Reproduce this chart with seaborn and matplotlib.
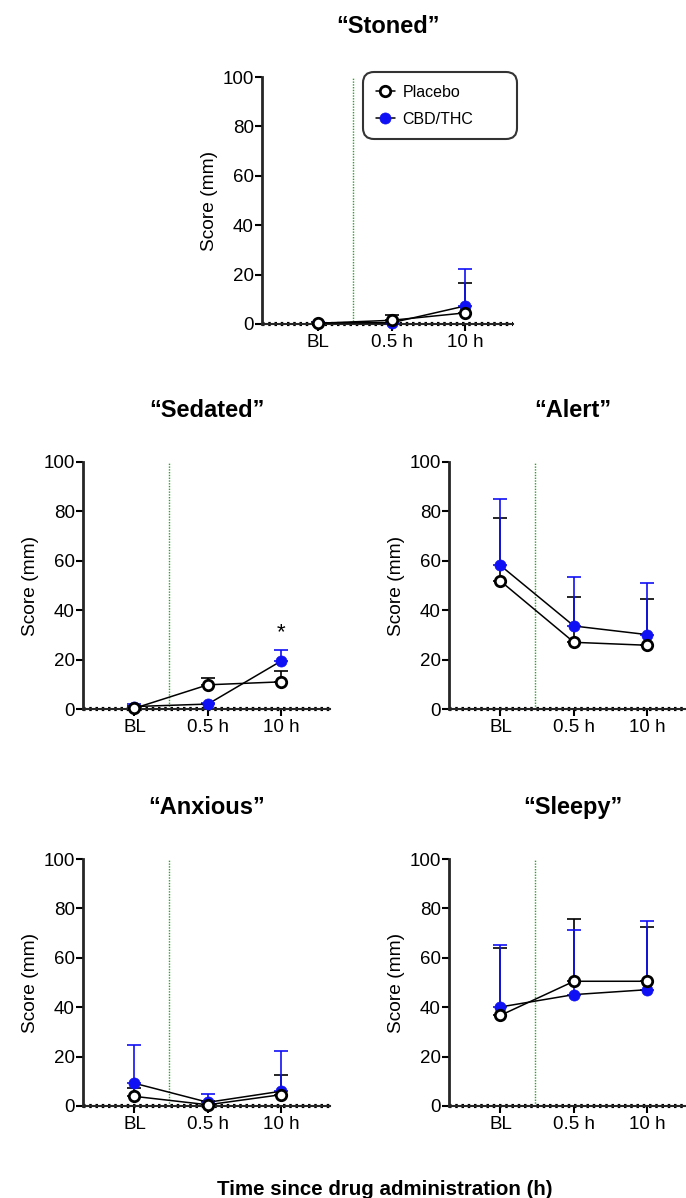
import numpy as np
import pandas as pd
import matplotlib
matplotlib.use("Agg")
import matplotlib.pyplot as plt
import seaborn as sns

# data (mean, upper SD)
times = ['BL', '0.5 h', '10 h']
groups = ['Placebo', 'CBD/THC']

stoned_placebo = [0.3, 1.5, 4.5]
stoned_placebo_sd = [0.5, 2.1, 12.1]
stoned_cbd = [0.5, 0.5, 7.3]
stoned_cbd_sd = [0.3, 0.5, 15.0]

sedated_placebo = [0.3, 9.8, 11.0]
sedated_placebo_sd = [0.8, 2.8, 4.4]
sedated_cbd = [1.0, 2.0, 19.5]
sedated_cbd_sd = [1.2, 0.5, 4.5]

alert_placebo = [51.8, 27.0, 25.8]
alert_placebo_sd = [25.6, 18.2, 18.9]
alert_cbd = [58.1, 33.6, 30.1]
alert_cbd_sd = [26.8, 19.8, 21.1]

anxious_placebo = [3.9, 0.5, 4.6]
anxious_placebo_sd = [3.2, 1.5, 8.1]
anxious_cbd = [9.2, 1.5, 6.0]
anxious_cbd_sd = [15.6, 3.2, 16.1]

sleepy_placebo = [36.7, 50.5, 50.5]
sleepy_placebo_sd = [27.4, 25.4, 22.1]
sleepy_cbd = [40.1, 45.1, 47.1]
sleepy_cbd_sd = [25.0, 26.1, 27.8]

BLUE = '#1010f5'

sns.set_style('ticks')
plt.rcParams['font.family'] = ['Liberation Sans', 'DejaVu Sans']
plt.rcParams['text.color'] = 'black'
plt.rcParams['axes.labelcolor'] = 'black'
plt.rcParams['xtick.color'] = 'black'
plt.rcParams['ytick.color'] = 'black'

W, H = 686, 1198
fig = plt.figure(figsize=(W / 100, H / 100), dpi=100)


def make_df(pl, pl_sd, cb, cb_sd):
    rows = []
    for g, m, s in [('Placebo', pl, pl_sd), ('CBD/THC', cb, cb_sd)]:
        for i, t in enumerate(times):
            rows.append({'group': g, 'time': t, 'pos': i, 'mean': m[i], 'sd': s[i]})
    return pd.DataFrame(rows)


def draw_panel(left, top, width, xlim, df, title, title_base, legend=False):
    # left/top in pixels, axes height fixed
    ax = fig.add_axes([left / W, 1 - (top + 247) / H, width / W, 247 / H])
    cbd = df[df.group == 'CBD/THC']
    pl = df[df.group == 'Placebo']
    # upper-only error bars, blue drawn over black
    ax.errorbar(pl['pos'], pl['mean'], yerr=[np.zeros(len(pl)), pl['sd']],
                fmt='none', ecolor='black', elinewidth=1.2, capsize=5, capthick=1.2,
                zorder=2, clip_on=False)
    ax.errorbar(cbd['pos'], cbd['mean'], yerr=[np.zeros(len(cbd)), cbd['sd']],
                fmt='none', ecolor=BLUE, elinewidth=1.2, capsize=5, capthick=1.2,
                zorder=3, clip_on=False)
    sns.lineplot(data=cbd, x='pos', y='mean', ax=ax, color='black', lw=1.1,
                 marker='o', markersize=8, markerfacecolor=BLUE, markeredgecolor=BLUE,
                 markeredgewidth=0.5, label='CBD/THC', zorder=4, clip_on=False)
    sns.lineplot(data=pl, x='pos', y='mean', ax=ax, color='black', lw=1.1,
                 marker='o', markersize=7.5, markerfacecolor='white', markeredgecolor='black',
                 markeredgewidth=2, label='Placebo', zorder=5, clip_on=False)

    ax.plot([0.47, 0.47], [0, 100], color='#2ca02c', lw=1, ls=(0, (1, 1)), zorder=1)
    ax.axhline(0, color='black', lw=3, ls=(0, (0.6, 0.9)), zorder=1.5, clip_on=False)

    ax.set_xlim(*xlim)
    ax.set_ylim(0, 100)
    ax.set_xticks(range(len(times)))
    ax.set_xticklabels(times)
    ax.set_yticks([0, 20, 40, 60, 80, 100])
    ax.set_xlabel('')
    ax.set_ylabel('Score (mm)', fontsize=13.8, labelpad=3)
    ax.tick_params(axis='both', labelsize=13.5, width=1.5, length=5, pad=1)
    ax.tick_params(axis='x', pad=2)
    for s in ['top', 'right']:
        ax.spines[s].set_visible(False)
    ax.spines['left'].set_linewidth(2)
    ax.spines['bottom'].set_linewidth(1.5)

    if legend:
        handles, labels = ax.get_legend_handles_labels()
        order = [labels.index('Placebo'), labels.index('CBD/THC')]
        x0 = (366 - left) / width
        x1 = (514 - left) / width
        y1 = (top + 247 - 75) / 247
        y0 = (top + 247 - 140) / 247
        leg = ax.legend([handles[i] for i in order], [labels[i] for i in order],
                        loc='upper left', bbox_to_anchor=(x0, y0, x1 - x0, y1 - y0),
                        mode='expand', borderaxespad=0,
                        fontsize=11.5, frameon=True, fancybox=True, handlelength=1.2,
                        borderpad=0.6, labelspacing=0.75, handletextpad=0.5)
        leg.get_frame().set_edgecolor('black')
        leg.get_frame().set_linewidth(1.5)
        leg.get_frame().set_boxstyle('round,pad=0.2,rounding_size=0.7')
    else:
        ax.get_legend().remove()

    fig.text((left + width / 2) / W, 1 - title_base / H, title, ha='center', va='baseline',
             fontsize=17, fontweight='bold')
    return ax


draw_panel(262, 77, 251, (-0.76, 2.65),
           make_df(stoned_placebo, stoned_placebo_sd, stoned_cbd, stoned_cbd_sd),
           '\u201cStoned\u201d', 33, legend=True)
ax_sed = draw_panel(83, 462, 247, (-0.7, 2.66),
                    make_df(sedated_placebo, sedated_placebo_sd, sedated_cbd, sedated_cbd_sd),
                    '\u201cSedated\u201d', 417)
ax_sed.text(2, 26.5, '*', ha='center', va='bottom', fontsize=16)
draw_panel(449, 462, 247, (-0.7, 2.66),
           make_df(alert_placebo, alert_placebo_sd, alert_cbd, alert_cbd_sd),
           '\u201cAlert\u201d', 417)
draw_panel(83, 859, 247, (-0.7, 2.66),
           make_df(anxious_placebo, anxious_placebo_sd, anxious_cbd, anxious_cbd_sd),
           '\u201cAnxious\u201d', 814)
draw_panel(449, 859, 247, (-0.7, 2.66),
           make_df(sleepy_placebo, sleepy_placebo_sd, sleepy_cbd, sleepy_cbd_sd),
           '\u201cSleepy\u201d', 814)

fig.text(385 / W, 1 - 1195 / H, 'Time since drug administration (h)', ha='center',
         va='baseline', fontsize=14.8, fontweight='bold')

fig.savefig('out.png', dpi=100)
